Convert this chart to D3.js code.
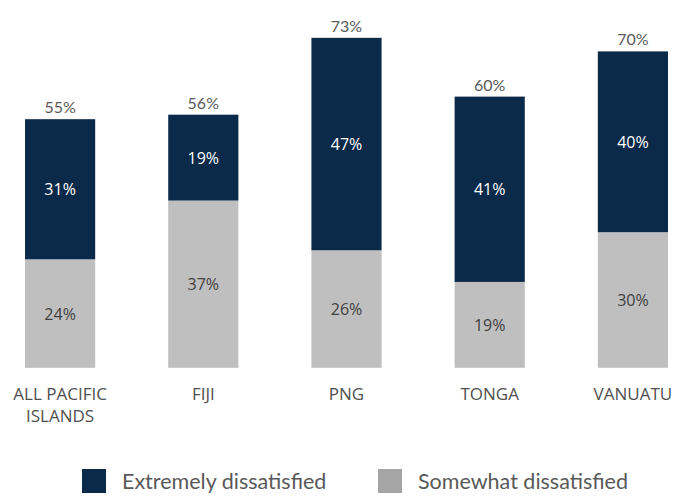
<!DOCTYPE html>
<html>
<head>
<meta charset="utf-8">
<script src="https://cdn.jsdelivr.net/npm/d3@7"></script>
<style>
  body { margin: 0; background: #fff; }
  svg { display: block; }
</style>
</head>
<body>
<div id="chart"></div>
<script>
// data
const categories = [["ALL PACIFIC", "ISLANDS"], ["FIJI"], ["PNG"], ["TONGA"], ["VANUATU"]];
const somewhat = [24, 37, 26, 19, 30];
const extremely = [31, 19, 47, 41, 40];
const totals = [55, 56, 73, 60, 70];
const seriesNames = ["Extremely dissatisfied", "Somewhat dissatisfied"];

const W = 688, H = 496;
const navy = "#0b2949", grey = "#bfbfbf";

const svg = d3.select("#chart")
  .append("svg")
  .attr("width", W)
  .attr("height", H);

const x = d3.scaleBand()
  .domain(d3.range(categories.length))
  .range([10.7, 682.3])
  .paddingInner(0.51)
  .paddingOuter(0.1);

// baseline at 367.8, about 4.52 px per percent
const y = d3.scaleLinear()
  .domain([0, 100])
  .range([367.8, 367.8 - 452]);

const rows = categories.map((c, i) => ({ i, s: somewhat[i], e: extremely[i], t: totals[i] }));

const g = svg.append("g");

// grey (bottom) segment
g.selectAll(".bar-s")
  .data(rows)
  .join("rect")
  .attr("class", "bar-s")
  .attr("x", d => x(d.i))
  .attr("width", x.bandwidth())
  .attr("y", d => y(d.s))
  .attr("height", d => y(0) - y(d.s))
  .attr("fill", grey);

// navy (top) segment
g.selectAll(".bar-e")
  .data(rows)
  .join("rect")
  .attr("class", "bar-e")
  .attr("x", d => x(d.i))
  .attr("width", x.bandwidth())
  .attr("y", d => y(d.s + d.e))
  .attr("height", d => y(d.s) - y(d.s + d.e))
  .attr("fill", navy);

const cx = d => x(d.i) + x.bandwidth() / 2;

g.selectAll(".lbl-s")
  .data(rows)
  .join("text")
  .attr("x", cx)
  .attr("y", d => (y(0) + y(d.s)) / 2 + 6)
  .attr("text-anchor", "middle")
  .style("font-family", "'Open Sans', sans-serif")
  .style("font-size", "16px")
  .attr("fill", "#404040")
  .text(d => d.s + "%");

g.selectAll(".lbl-e")
  .data(rows)
  .join("text")
  .attr("x", cx)
  .attr("y", d => (y(d.s) + y(d.s + d.e)) / 2 + 6)
  .attr("text-anchor", "middle")
  .style("font-family", "'Open Sans', sans-serif")
  .style("font-size", "16px")
  .attr("fill", "#fff")
  .text(d => d.e + "%");

g.selectAll(".lbl-t")
  .data(rows)
  .join("text")
  .attr("x", cx)
  .attr("y", d => y(d.s + d.e) - 6)
  .attr("text-anchor", "middle")
  .style("font-family", "Lato, sans-serif")
  .style("font-size", "16px")
  .attr("fill", "#595959")
  .text(d => d.t + "%");

// category labels
const cat = g.selectAll(".cat")
  .data(rows)
  .join("text")
  .attr("class", "cat")
  .attr("text-anchor", "middle")
  .style("font-family", "'Open Sans', sans-serif")
  .style("font-size", "17px")
  .attr("fill", "#505050");
cat.selectAll("tspan")
  .data(d => categories[d.i].map(line => ({ line, d })))
  .join("tspan")
  .attr("x", t => cx(t.d))
  .attr("y", (t, k) => 399.5 + k * 22.5)
  .text(t => t.line);

// legend
const legend = svg.append("g")
  .selectAll("g")
  .data(seriesNames)
  .join("g")
  .attr("transform", (d, i) => `translate(${i ? 378 : 82}, 469)`);
legend.append("rect")
  .attr("width", 24)
  .attr("height", 24)
  .attr("fill", (d, i) => i ? "#a5a5a5" : navy);
legend.append("text")
  .attr("x", 40)
  .attr("y", 20)
  .style("font-family", "Lato, sans-serif")
  .style("font-size", "21.5px")
  .attr("fill", "#595959")
  .text(d => d);
</script>
</body>
</html>
